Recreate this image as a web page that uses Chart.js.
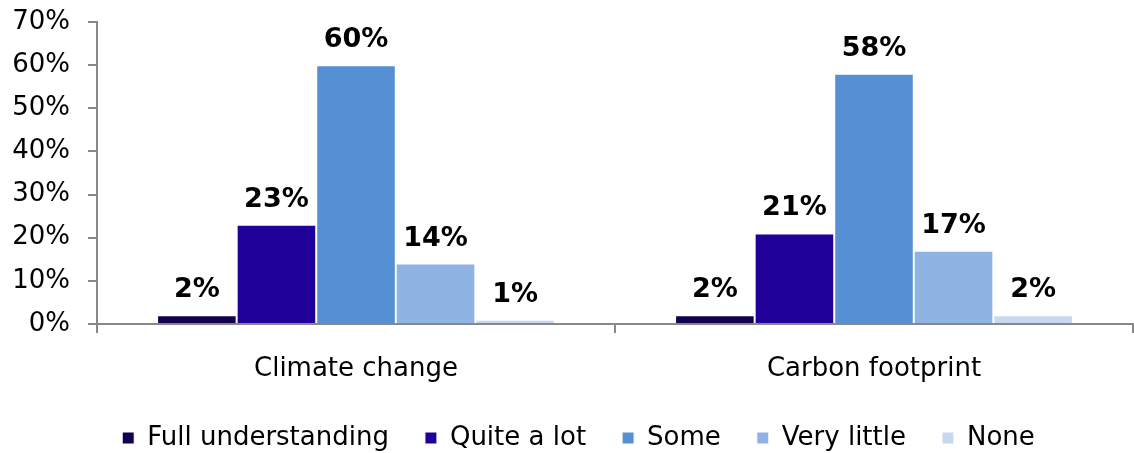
<!DOCTYPE html>
<html>
<head>
<meta charset="utf-8">
<script src="https://cdn.jsdelivr.net/npm/chart.js@4"></script>
<style>
html,body{margin:0;padding:0;background:#fff;}
#wrap{width:1134px;height:453px;}
</style>
</head>
<body>
<div id="wrap"><canvas id="c" width="1134" height="453"></canvas></div>
<script>
const categories = ["Climate change", "Carbon footprint"];
const seriesNames = ["Full understanding", "Quite a lot", "Some", "Very little", "None"];
const fullUnderstanding = [2, 2];
const quiteALot = [23, 21];
const some = [60, 58];
const veryLittle = [14, 17];
const none = [1, 2];
const yTicks = [0, 10, 20, 30, 40, 50, 60, 70];
const colors = ["#12004f", "#1f0099", "#5590d5", "#8fb3e3", "#c6d9f1"];

const seriesValues = [fullUnderstanding, quiteALot, some, veryLittle, none];
const FONT = "'DejaVu Sans', Verdana, sans-serif";

const labelPlugin = {
  id: 'valLabels',
  afterLayout(chart) {
    if (chart.legend) {
      chart.legend.left += 12;
      chart.legend.right += 12;
    }
  },
  afterDatasetsDraw(chart) {
    const ctx = chart.ctx;
    ctx.save();
    ctx.font = "bold 27px " + FONT;
    ctx.fillStyle = "#000";
    ctx.textAlign = "center";
    ctx.textBaseline = "alphabetic";
    chart.data.datasets.forEach((ds, i) => {
      const meta = chart.getDatasetMeta(i);
      meta.data.forEach((el, j) => {
        ctx.fillText(ds.data[j] + "%", el.x, el.y - 18);
      });
    });
    ctx.restore();
  }
};

new Chart(document.getElementById('c'), {
  type: 'bar',
  data: {
    labels: categories,
    datasets: seriesNames.map((n, i) => ({
      label: n,
      data: seriesValues[i],
      backgroundColor: colors[i],
      borderColor: "#ffffff",
      borderWidth: 1,
      categoryPercentage: 0.768,
      barPercentage: 1.0
    }))
  },
  options: {
    responsive: false,
    animation: false,
    devicePixelRatio: 1,
    layout: { padding: { top: 22, right: 1, left: 0, bottom: -8 } },
    plugins: {
      tooltip: { enabled: false },
      legend: {
        position: 'bottom',
        labels: {
          boxWidth: 12, boxHeight: 12,
          color: "#000",
          font: { family: FONT, size: 26 },
          padding: 36
        }
      }
    },
    scales: {
      x: {
        grid: { offset: true, drawOnChartArea: false, drawTicks: true, tickLength: 9, color: "#888", lineWidth: 2 },
        border: { color: "#888", width: 2 },
        ticks: { color: "#000", font: { family: FONT, size: 26 }, padding: 21 },
        afterFit(s) { s.height = 65; s.paddingLeft = 0; s.paddingRight = 0; }
      },
      y: {
        min: 0, max: 70,
        afterBuildTicks(s) { s.ticks = yTicks.map(v => ({ value: v })); },
        grid: { drawOnChartArea: false, drawTicks: true, tickLength: 9, color: "#888", lineWidth: 2 },
        border: { color: "#888", width: 2 },
        ticks: { color: "#000", font: { family: FONT, size: 26 }, padding: 18, callback: v => v + "%" },
        afterFit(s) { s.width = 97; s.paddingTop = 0; s.paddingBottom = 0; }
      }
    }
  },
  plugins: [labelPlugin]
});
</script>
</body>
</html>
